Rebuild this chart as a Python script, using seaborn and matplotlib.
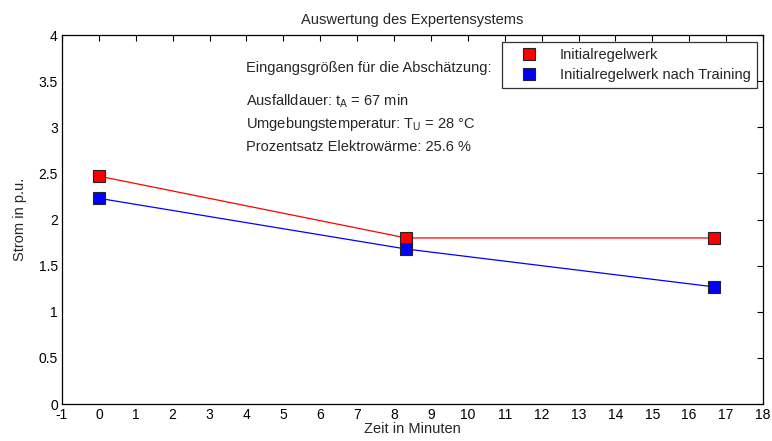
import pandas as pd
import matplotlib
matplotlib.use("Agg")
import matplotlib.pyplot as plt
from matplotlib.lines import Line2D
import seaborn as sns

# Auswertung des Expertensystems
zeit = [0, 8.33, 16.67]
initial = [2.47, 1.80, 1.80]
nach_training = [2.23, 1.68, 1.27]
serien = ["Initialregelwerk", "Initialregelwerk nach Training"]
farben = ["#ff0000", "#0000ff"]
x_ticks = list(range(-1, 19))
y_ticks = [0, 0.5, 1, 1.5, 2, 2.5, 3, 3.5, 4]
y_labels = ["0", "0.5", "1", "1.5", "2", "2.5", "3", "3.5", "4"]

sns.set_style("white")
plt.rcParams["font.family"] = ["Liberation Sans", "DejaVu Sans"]
plt.rcParams["axes.unicode_minus"] = False
fs = 10.5

data = pd.DataFrame({
    "Zeit": zeit * 2,
    "Strom": initial + nach_training,
    "Serie": [serien[0]] * 3 + [serien[1]] * 3,
})

fig = plt.figure(figsize=(7.72, 4.41), dpi=100)
ax = fig.add_axes([0.0803, 0.0839, 0.908, 0.8367])

sns.lineplot(data=data, x="Zeit", y="Strom", hue="Serie", palette=farben,
             marker="s", markersize=8, markeredgecolor="#222222",
             markeredgewidth=0.8, linewidth=0.9, ax=ax, legend=False)

ax.set_xlim(-1, 18)
ax.set_ylim(0, 4)
ax.set_xticks(x_ticks)
ax.set_yticks(y_ticks)
ax.set_yticklabels(y_labels)
ax.tick_params(direction="in", length=4, width=0.8, top=True, right=True,
               labelsize=10, colors="black", pad=3)
for s in ax.spines.values():
    s.set_color("black")
    s.set_linewidth(0.9)

ax.set_title("Auswertung des Expertensystems", fontsize=fs, pad=8)
ax.set_xlabel("Zeit in Minuten", fontsize=fs, labelpad=0)
ax.set_ylabel("Strom in p.u.", fontsize=fs, labelpad=8)

# Legende nur mit Markern
handles = [Line2D([], [], linestyle="none", marker="s", markersize=8,
                  markerfacecolor=c, markeredgecolor="#222222", markeredgewidth=0.8)
           for c in farben]
leg = ax.legend(handles, serien, loc="upper right", bbox_to_anchor=(0.991, 0.981),
                fontsize=fs, frameon=True, fancybox=False, edgecolor="black",
                borderpad=0.4, labelspacing=0.4, handlelength=3.0,
                handletextpad=0.6, borderaxespad=0)
leg.get_frame().set_linewidth(0.9)

# Eingangsgrößen
ax.text(0.263, 0.911, "Eingangsgrößen für die Abschätzung:", transform=ax.transAxes,
        va="center", fontsize=fs)
ax.text(0.263, 0.821, "Ausfalldauer: $\\mathregular{t_A}$ = 67 min", transform=ax.transAxes,
        va="center", fontsize=fs)
ax.text(0.263, 0.759, "Umgebungstemperatur: $\\mathregular{T_U}$ = 28 °C", transform=ax.transAxes,
        va="center", fontsize=fs)
ax.text(0.263, 0.696, "Prozentsatz Elektrowärme: 25.6 %", transform=ax.transAxes,
        va="center", fontsize=fs)

plt.savefig("out.png", dpi=100)
